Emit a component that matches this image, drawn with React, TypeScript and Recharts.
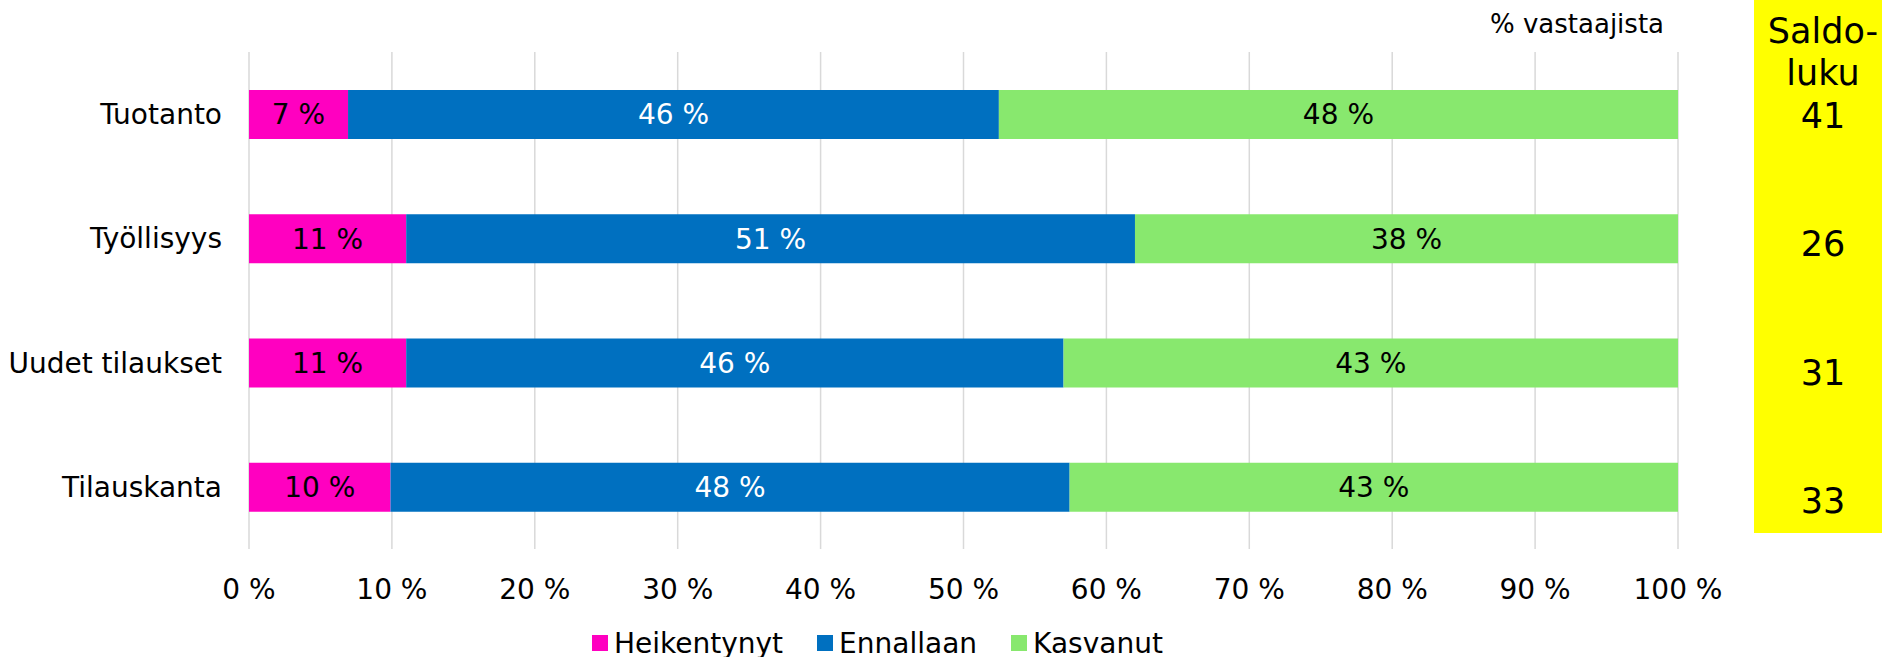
import React from "react";
import { BarChart, Bar, XAxis, YAxis, CartesianGrid, Legend, LabelList } from "recharts";

const categories = ["Tuotanto", "Työllisyys", "Uudet tilaukset", "Tilauskanta"];
const heikentynyt = [7, 11, 11, 10];
const ennallaan = [46, 51, 46, 48];
const kasvanut = [48, 38, 43, 43];
const saldoluku = [41, 26, 31, 33];
const xTicks = [0, 0.1, 0.2, 0.3, 0.4, 0.5, 0.6, 0.7, 0.8, 0.9, 1];
const seriesOrder = ["Heikentynyt", "Ennallaan", "Kasvanut"];

const PINK = "#FF00C0";
const BLUE = "#0070C0";
const GREEN = "#88E86E";
const FONT = "DejaVu Sans, Verdana, sans-serif";
const FS = 28;

const data = categories.map((name, i) => ({
  name,
  heik: heikentynyt[i],
  enn: ennallaan[i],
  kasv: kasvanut[i],
}));

const pct = (v: any) => `${v} %`;

const LegendContent = ({ payload }: any) => {
  const items = [...(payload || [])].sort(
    (a: any, b: any) => seriesOrder.indexOf(a.value) - seriesOrder.indexOf(b.value)
  );
  return (
    <div style={{ display: "flex", alignItems: "center", gap: 34, fontFamily: FONT, fontSize: 28 }}>
      {items.map((p: any) => (
        <div key={p.value} style={{ display: "flex", alignItems: "center", height: 32 }}>
          <span style={{ width: 16, height: 16, background: p.color, marginRight: 6, display: "inline-block" }} />
          <span style={{ color: "#000" }}>{p.value}</span>
        </div>
      ))}
    </div>
  );
};

export default function App() {
  return (
    <div style={{ position: "absolute", left: 0, top: 0, width: 1882, height: 657, background: "#fff" }}>
      <BarChart
        width={1882}
        height={657}
        data={data}
        layout="vertical"
        stackOffset="expand"
        barSize={49}
        margin={{ top: 52, right: 204, left: 0, bottom: 48 }}
      >
        <CartesianGrid horizontal={false} stroke="#D9D9D9" strokeWidth={1.5} />
        <XAxis
          type="number"
          domain={[0, 1]}
          ticks={xTicks}
          tickFormatter={(v: number) => `${Math.round(v * 100)} %`}
          axisLine={false}
          tickLine={false}
          tickSize={0}
          tickMargin={30}
          height={60}
          interval={0}
          tick={{ fill: "#000", fontSize: FS, fontFamily: FONT }}
        />
        <YAxis
          type="category"
          dataKey="name"
          width={249}
          axisLine={false}
          tickLine={false}
          tickSize={0}
          tickMargin={27}
          interval={0}
          tick={{ fill: "#000", fontSize: FS, fontFamily: FONT }}
        />
        <Legend
          layout="horizontal"
          verticalAlign="middle"
          align="center"
          wrapperStyle={{ top: 627, left: 592, width: "auto" }}
          content={<LegendContent />}
        />
        <Bar dataKey="heik" name="Heikentynyt" stackId="a" fill={PINK} isAnimationActive={false}>
          <LabelList dataKey="heik" position="center" formatter={pct} fill="#000" style={{ fontSize: FS, fontFamily: FONT }} />
        </Bar>
        <Bar dataKey="enn" name="Ennallaan" stackId="a" fill={BLUE} isAnimationActive={false}>
          <LabelList dataKey="enn" position="center" formatter={pct} fill="#fff" style={{ fontSize: FS, fontFamily: FONT }} />
        </Bar>
        <Bar dataKey="kasv" name="Kasvanut" stackId="a" fill={GREEN} isAnimationActive={false}>
          <LabelList dataKey="kasv" position="center" formatter={pct} fill="#000" style={{ fontSize: FS, fontFamily: FONT }} />
        </Bar>
      </BarChart>
      <svg
        width={1882}
        height={657}
        style={{ position: "absolute", left: 0, top: 0, pointerEvents: "none" }}
      >
        <text x={1490} y={33} fontSize={26} fontFamily={FONT} fill="#000">
          % vastaajista
        </text>
        <rect x={1754} y={0} width={128} height={533} fill="#FFFF00" />
        <g fontFamily={FONT} fontSize={35} fill="#000" textAnchor="middle">
          <text x={1823} y={43}>Saldo-</text>
          <text x={1823} y={85}>luku</text>
          {saldoluku.map((v, i) => (
            <text key={i} x={1823} y={128 + i * 128.4}>
              {v}
            </text>
          ))}
        </g>
      </svg>
    </div>
  );
}
